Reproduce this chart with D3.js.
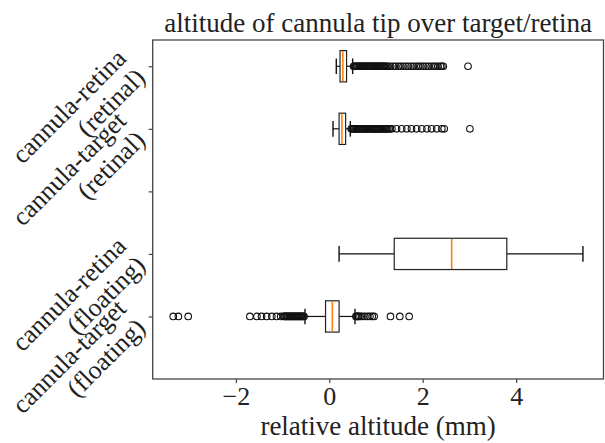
<!DOCTYPE html>
<html>
<head>
<meta charset="utf-8">
<script src="https://cdn.jsdelivr.net/npm/d3@7/dist/d3.min.js"></script>
<style>
  html, body { margin: 0; padding: 0; background: #fff; }
  svg { display: block; }
  text { font-family: "Liberation Serif", "DejaVu Serif", serif; fill: #222; }
</style>
</head>
<body>
<svg id="chart" width="605" height="443"></svg>
<script>
// ---- data ----
const categories = [
  ["cannula-target", "(floating)"],
  ["cannula-retina", "(floating)"],
  [],
  ["cannula-target", "(retinal)"],
  ["cannula-retina", "(retinal)"]
];
const positions = [1, 2, 3, 4, 5];
const whiskerLow  = [-0.52, 0.21, null, 0.08, 0.15];
const q1          = [-0.08, 1.39, null, 0.21, 0.23];
const medians     = [0.065, 2.62, null, 0.27, 0.29];
const q3          = [0.21, 3.80, null, 0.35, 0.37];
const whiskerHigh = [0.55, 5.43, null, 0.45, 0.50];

const outliersTargetFloating = [
  -3.34, -3.23, -3.02,
  -1.70, -1.55, -1.45, -1.34, -1.23, -1.13, -1.04,
  -0.98, -0.96, -0.94, -0.92, -0.90, -0.88, -0.86, -0.84, -0.82, -0.80,
  -0.78, -0.76, -0.74, -0.72, -0.70, -0.68, -0.66, -0.64, -0.62, -0.60,
  -0.58, -0.56, -0.54,
  0.57, 0.59, 0.61, 0.63, 0.66, 0.70, 0.76, 0.82, 0.87, 0.92, 0.96,
  1.31, 1.51, 1.71
];
const outliersRetinaFloating = [];
const outliersTargetRetinal = [
  0.47, 0.49, 0.51, 0.53, 0.55, 0.57, 0.59, 0.61, 0.63, 0.65, 0.67, 0.69,
  0.71, 0.73, 0.75, 0.77, 0.79, 0.81, 0.83, 0.85, 0.87, 0.89, 0.91, 0.93,
  0.95, 0.97, 0.99, 1.01, 1.03, 1.05, 1.07, 1.09, 1.11, 1.13, 1.15, 1.17,
  1.19, 1.21, 1.23, 1.25, 1.28, 1.30,
  1.34, 1.44, 1.55, 1.66, 1.76, 1.87, 1.98, 2.09, 2.19, 2.30, 2.41, 2.46,
  3.01
];
const outliersRetinaRetinal = [
  0.52, 0.54, 0.56, 0.58, 0.60, 0.62, 0.64, 0.66, 0.68, 0.70, 0.72, 0.74,
  0.76, 0.78, 0.80, 0.82, 0.84, 0.86, 0.88, 0.90, 0.92, 0.94, 0.96, 0.98,
  1.00, 1.02, 1.04, 1.06, 1.08, 1.10, 1.12, 1.14, 1.16, 1.18, 1.20, 1.23,
  1.26, 1.31, 1.37, 1.42, 1.48, 1.53, 1.58, 1.64, 1.69, 1.75, 1.80, 1.86,
  1.91, 1.96, 2.01, 2.07, 2.12, 2.18, 2.23, 2.28, 2.33, 2.38, 2.41, 2.44,
  2.97
];
const outliers = [outliersTargetFloating, outliersRetinaFloating, [], outliersTargetRetinal, outliersRetinaRetinal];

const xTicks = [-2, 0, 2, 4];
const titleText = "altitude of cannula tip over target/retina";
const xLabelText = "relative altitude (mm)";

// ---- layout ----
const svg = d3.select("#chart");
const plotLeft = 152.7, plotRight = 603.5, plotTop = 40, plotBottom = 379;
const x = d3.scaleLinear().domain([-3.78, 5.87]).range([plotLeft, plotRight]);
const y = d3.scaleLinear().domain([0, 5.42]).range([plotBottom, plotTop]);
const boxHalf = 0.25;
const axisColor = "#444";

// frame
svg.append("rect")
  .attr("x", plotLeft).attr("y", plotTop)
  .attr("width", plotRight - plotLeft).attr("height", plotBottom - plotTop)
  .attr("fill", "none").attr("stroke", axisColor).attr("stroke-width", 1.3);

// x axis
const xAxis = d3.axisBottom(x).tickValues(xTicks).tickSize(4).tickPadding(4)
  .tickFormat(d => d < 0 ? "\u2212" + Math.abs(d) : String(d));
const gx = svg.append("g").attr("transform", `translate(0,${plotBottom})`).call(xAxis);
gx.select(".domain").remove();
gx.selectAll(".tick line").attr("stroke", axisColor).attr("stroke-width", 1.2);
gx.selectAll(".tick text").attr("font-size", 26).attr("font-family", "Liberation Serif").attr("fill", "#222");

// y axis ticks
const yAxis = d3.axisLeft(y).tickValues(positions).tickSize(4).tickFormat("");
const gy = svg.append("g").attr("transform", `translate(${plotLeft},0)`).call(yAxis);
gy.select(".domain").remove();
gy.selectAll(".tick line").attr("stroke", axisColor).attr("stroke-width", 1.2);

// y tick labels (rotated 45, right-aligned lines)
const labelX = 134;
positions.forEach((p, i) => {
  const lines = categories[i];
  if (!lines.length) return;
  const g = svg.append("g").attr("transform", `translate(${labelX},${y(p)}) rotate(-45)`);
  const t = g.append("text").attr("text-anchor", "end").attr("font-size", 26);
  lines.forEach((ln, j) => {
    t.append("tspan").attr("x", 0).attr("y", (j === 0 ? -9 : 18)).text(ln);
  });
});

// boxes
const boxG = svg.append("g");
positions.forEach((p, i) => {
  if (q1[i] === null) return;
  const yc = y(p), yt = y(p + boxHalf), yb = y(p - boxHalf);
  const capT = y(p + boxHalf / 2), capB = y(p - boxHalf / 2);
  boxG.append("line").attr("x1", x(whiskerLow[i])).attr("x2", x(q1[i]))
    .attr("y1", yc).attr("y2", yc).attr("stroke", "#111").attr("stroke-width", 1.2);
  boxG.append("line").attr("x1", x(q3[i])).attr("x2", x(whiskerHigh[i]))
    .attr("y1", yc).attr("y2", yc).attr("stroke", "#111").attr("stroke-width", 1.2);
  [whiskerLow[i], whiskerHigh[i]].forEach(v => {
    boxG.append("line").attr("x1", x(v)).attr("x2", x(v))
      .attr("y1", capT).attr("y2", capB).attr("stroke", "#111").attr("stroke-width", 1.4);
  });
  boxG.append("rect").attr("x", x(q1[i])).attr("y", yt)
    .attr("width", x(q3[i]) - x(q1[i])).attr("height", yb - yt)
    .attr("fill", "none").attr("stroke", "#222").attr("stroke-width", 1.2);
  boxG.append("line").attr("x1", x(medians[i])).attr("x2", x(medians[i]))
    .attr("y1", yt + 0.6).attr("y2", yb - 0.6).attr("stroke", "#ff7f0e").attr("stroke-width", 1.6);
  boxG.selectAll(null).data(outliers[i]).enter().append("circle")
    .attr("cx", d => x(d)).attr("cy", yc).attr("r", 3.3)
    .attr("fill", "none").attr("stroke", "#111").attr("stroke-width", 1.1);
});

// title and x label
svg.append("text").attr("x", (plotLeft + plotRight) / 2).attr("y", 32)
  .attr("text-anchor", "middle").attr("font-size", 27).text(titleText);
svg.append("text").attr("x", (plotLeft + plotRight) / 2).attr("y", 435)
  .attr("text-anchor", "middle").attr("font-size", 27).text(xLabelText);
</script>
</body>
</html>
